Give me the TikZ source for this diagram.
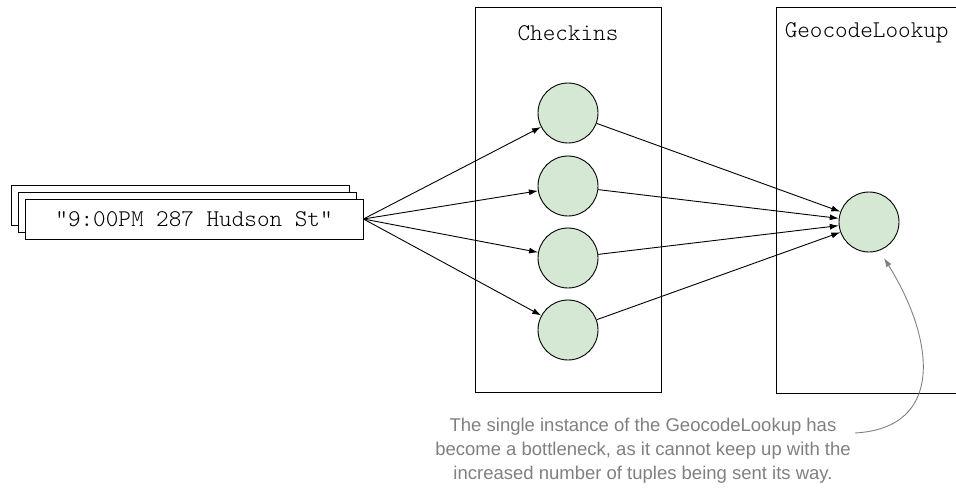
\documentclass[tikz,border=0pt]{standalone}
\usepackage{fontspec}
\setmainfont{Liberation Sans}
\newfontfamily\monolt{Latin Modern Mono Light}
\usetikzlibrary{arrows.meta}
\definecolor{nodegreen}{RGB}{213,232,212}
\definecolor{notegray}{RGB}{128,128,128}
\begin{document}
\begin{tikzpicture}[x=1pt,y=-1pt,
  line width=0.9pt,
  tuplebox/.style={draw,fill=white,minimum width=338pt,minimum height=40pt,inner sep=0pt,font=\monolt\fontsize{24}{26}\selectfont},
  task/.style={circle,draw,fill=nodegreen,minimum size=60pt,inner sep=0pt},
  flow/.style={-{Latex[length=9pt,width=6pt]}},
  label/.style={font=\monolt\fontsize{24}{26}\selectfont},
  note/.style={font=\fontsize{18.5}{24}\selectfont,text=notegray,align=center},
]
\useasboundingbox (0,0) rectangle (956,493);
% bolt/stage boxes
\draw (475,7) rectangle (661,392);
\draw (776,7) -- (956,7);
\draw (776,7) -- (776,393) -- (956,393);
\node[label] (chk) at (568,33) {Checkins};
\node[label,anchor=west] (geo) at (781,33) {GeocodeLookup};
% tuple stack
\node[tuplebox] (t3) at (180.5,205) {};
\node[tuplebox] (t2) at (187.5,212) {};
\node[tuplebox] (t1) at (194,219) {"9:00PM 287 Hudson St"};
% tasks
\node[task] (c1) at (568,113) {};
\node[task] (c2) at (568,186) {};
\node[task] (c3) at (568,258) {};
\node[task] (c4) at (568,330) {};
\node[task] (g) at (869,222) {};
\foreach \c in {c1,c2,c3,c4} {
  \draw[flow] (t1.east) -- (\c);
  \draw[flow] (\c) -- (g);
}
% annotation
\node[note] (note) at (643,451) {The single instance of the GeocodeLookup has\\become a bottleneck, as it cannot keep up with the\\increased number of tuples being sent its way.};
\coordinate (ns) at (855,433);
\draw[notegray,line width=0.9pt,-{Latex[length=9pt,width=6pt]}] (ns) .. controls (945,428) and (935,340) .. (884,258);
\end{tikzpicture}
\end{document}
